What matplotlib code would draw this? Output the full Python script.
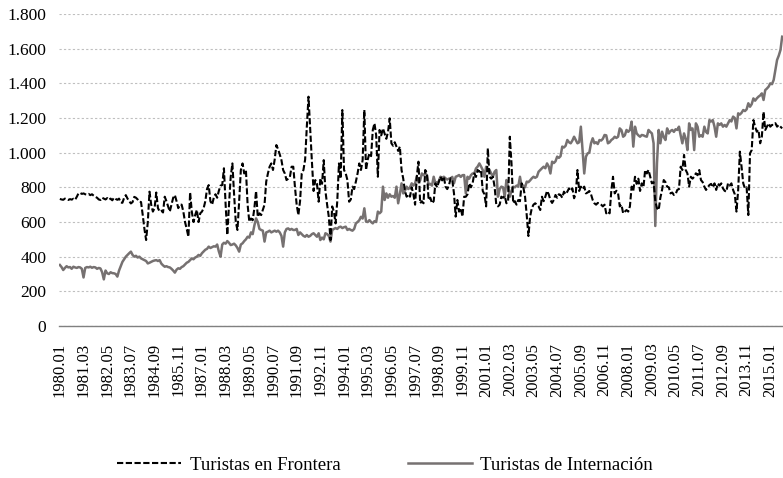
import numpy as np
import matplotlib
matplotlib.use("Agg")
import matplotlib.pyplot as plt
from matplotlib.ticker import FuncFormatter

plt.rcParams['font.family'] = ['Liberation Serif', 'DejaVu Serif']

# Monthly series, 1980.01 - 2015.08 (thousands)
frontera = [
    733, 730, 728, 735, 730, 727, 732, 729, 734, 728, 745, 765,   # 1980
    768, 762, 765, 760, 758, 762, 755, 760, 752, 745, 740, 730,   # 1981
    727, 740, 735, 730, 738, 728, 735, 725, 740, 733, 728, 735,   # 1982
    712, 711, 740, 755, 735, 720, 707, 715, 745, 740, 730, 717,   # 1983
    715, 640, 560, 496, 600, 775, 700, 660, 680, 770, 680, 660,   # 1984
    665, 655, 746, 720, 690, 660, 700, 740, 755, 720, 680, 700,   # 1985
    700, 660, 600, 560, 515, 771, 660, 600, 640, 670, 600, 650,   # 1986
    660, 680, 720, 790, 813, 720, 700, 740, 760, 740, 780, 810,   # 1987
    813, 910, 700, 525, 700, 860, 938, 760, 600, 554, 720, 900,   # 1988
    938, 880, 900, 700, 602, 620, 610, 680, 779, 630, 650, 640,   # 1989
    670, 700, 833, 880, 919, 938, 900, 960, 1044, 1020, 990, 957,  # 1990
    900, 880, 842, 850, 860, 919, 919, 800, 700, 640, 720, 880,   # 1991
    900, 960, 1150, 1323, 1131, 950, 779, 842, 820, 717, 852, 820,  # 1992
    957, 779, 700, 630, 496, 690, 660, 592, 720, 938, 850, 1246,  # 1993
    900, 880, 842, 717, 730, 804, 790, 833, 880, 938, 900, 957,   # 1994
    1246, 900, 960, 996, 980, 1131, 1169, 1100, 861, 1131, 1100, 1140,  # 1995
    1111, 1080, 1120, 1198, 1054, 1040, 1060, 1035, 1010, 1035, 900, 850,  # 1996
    779, 746, 760, 746, 800, 760, 700, 861, 948, 708, 720, 708,   # 1997
    900, 880, 727, 740, 708, 720, 823, 800, 830, 861, 840, 861,   # 1998
    804, 790, 810, 852, 840, 765, 631, 727, 660, 680, 631, 746,   # 1999
    746, 760, 823, 800, 823, 880, 860, 900, 890, 900, 779, 760,   # 2000
    690, 1025, 861, 850, 861, 804, 700, 690, 700, 746, 740, 750,  # 2001
    708, 720, 1092, 938, 708, 720, 700, 727, 720, 823, 800, 746,  # 2002
    640, 519, 631, 680, 700, 708, 700, 690, 669, 746, 720, 746,   # 2003
    779, 760, 727, 710, 727, 756, 740, 760, 756, 740, 775, 760,   # 2004
    775, 794, 780, 794, 737, 765, 900, 779, 804, 790, 804, 765,   # 2005
    770, 779, 760, 727, 708, 700, 710, 708, 700, 690, 700, 650,   # 2006
    660, 650, 779, 861, 765, 780, 765, 690, 700, 650, 660, 669,   # 2007
    660, 690, 804, 780, 861, 820, 850, 779, 823, 800, 900, 880,   # 2008
    900, 861, 823, 830, 720, 680, 669, 740, 785, 842, 830, 804,   # 2009
    800, 765, 770, 756, 760, 785, 790, 919, 900, 987, 900, 880,   # 2010
    804, 861, 850, 861, 881, 870, 900, 842, 830, 804, 785, 800,   # 2011
    813, 820, 800, 823, 785, 823, 810, 823, 794, 780, 775, 823,   # 2012
    810, 823, 785, 760, 660, 785, 1006, 919, 823, 794, 800, 640,  # 2013
    996, 1015, 1188, 1150, 1121, 1131, 1054, 1092, 1236, 1131, 1150, 1169,  # 2014
    1150, 1160, 1160, 1170, 1150, 1160, 1150, 1140,               # 2015
]

internacion = [
    352, 340, 323, 335, 345, 338, 340, 330, 342, 338, 335, 340,   # 1980
    338, 330, 280, 335, 340, 338, 342, 336, 340, 338, 330, 335,   # 1981
    332, 310, 269, 320, 304, 300, 310, 305, 304, 300, 285, 320,   # 1982
    345, 370, 385, 400, 410, 420, 429, 410, 400, 405, 395, 400,   # 1983
    390, 385, 380, 375, 361, 365, 370, 375, 378, 380, 375, 380,   # 1984
    360, 350, 342, 345, 340, 338, 330, 320, 308, 325, 333, 330,   # 1985
    340, 345, 355, 365, 370, 380, 390, 385, 395, 400, 410, 405,   # 1986
    420, 430, 440, 445, 458, 450, 455, 460, 458, 470, 430, 400,   # 1987
    470, 480, 475, 490, 480, 467, 470, 475, 465, 450, 429, 470,   # 1988
    477, 490, 500, 515, 510, 540, 530, 580, 621, 600, 560, 554,   # 1989
    550, 487, 540, 544, 550, 540, 545, 550, 544, 550, 540, 520,   # 1990
    458, 540, 560, 563, 555, 560, 554, 554, 560, 525, 540, 530,   # 1991
    520, 515, 525, 515, 520, 530, 535, 525, 515, 535, 496, 510,   # 1992
    500, 535, 530, 520, 487, 554, 560, 565, 560, 570, 573, 565,   # 1993
    570, 573, 554, 560, 554, 550, 560, 592, 600, 610, 630, 620,   # 1994
    679, 602, 600, 611, 600, 592, 605, 600, 660, 650, 660, 804,   # 1995
    727, 765, 740, 760, 746, 750, 740, 804, 708, 760, 823, 765,   # 1996
    780, 804, 790, 800, 823, 810, 823, 861, 830, 840, 880, 870,   # 1997
    880, 870, 815, 820, 810, 861, 823, 830, 833, 861, 855, 861,   # 1998
    852, 845, 850, 852, 860, 823, 861, 865, 871, 860, 870, 871,   # 1999
    765, 861, 850, 870, 880, 880, 909, 920, 938, 920, 900, 861,   # 2000
    919, 900, 900, 880, 861, 890, 900, 746, 790, 804, 800, 746,   # 2001
    842, 800, 746, 780, 804, 800, 810, 804, 861, 804, 810, 800,   # 2002
    833, 830, 840, 852, 861, 855, 861, 890, 900, 910, 919, 910,   # 2003
    938, 920, 880, 948, 940, 950, 977, 970, 980, 1035, 1030, 1040,  # 2004
    1073, 1060, 1054, 1070, 1092, 1073, 1054, 1060, 1150, 1015, 880, 977,  # 2005
    996, 1000, 1054, 1083, 1054, 1060, 1050, 1073, 1070, 1080, 1102, 1100,  # 2006
    1054, 1060, 1073, 1080, 1092, 1085, 1092, 1140, 1130, 1092, 1100, 1131,  # 2007
    1120, 1131, 1179, 1035, 1150, 1111, 1100, 1092, 1102, 1100, 1095, 1092,  # 2008
    1131, 1120, 1111, 1054, 577, 938, 1131, 1054, 1121, 1090, 1073, 1140,  # 2009
    1111, 1125, 1131, 1120, 1135, 1131, 1150, 1100, 1054, 1111, 1080, 1015,  # 2010
    1169, 1131, 1140, 1015, 1169, 1150, 1092, 1100, 1092, 1150, 1120, 1111,  # 2011
    1188, 1180, 1188, 1150, 1092, 1169, 1160, 1169, 1150, 1160, 1150, 1169,  # 2012
    1188, 1180, 1208, 1200, 1140, 1227, 1220, 1230, 1246, 1240, 1250, 1285,  # 2013
    1265, 1280, 1313, 1300, 1313, 1323, 1330, 1342, 1304, 1361, 1370, 1381,  # 2014
    1400, 1395, 1420, 1477, 1535, 1560, 1592, 1669,               # 2015
]

start_year, start_month = 1980, 1
n = len(frontera)
labels_all = []
for i in range(n):
    y = start_year + (start_month - 1 + i) // 12
    m = (start_month - 1 + i) % 12 + 1
    labels_all.append(f"{y}.{m:02d}")
tick_step = 14
tick_idx = list(range(0, n, tick_step))
tick_labels = [labels_all[i] for i in tick_idx]

fig = plt.figure(figsize=(7.83, 4.78), dpi=100)
ax = fig.add_axes([59/783, 1 - 326/478, 1 - 59/783, (326 - 14)/478])

x = np.arange(n)
ax.plot(x, frontera, color='black', lw=1.5, linestyle=(0, (3, 1.2)),
        label='Turistas en Frontera', zorder=3)
ax.plot(x, internacion, color='#767171', lw=1.8, linestyle='-',
        label='Turistas de Internación', zorder=2)

ax.set_xlim(-0.5, n - 0.5)
ax.set_ylim(0, 1800)
ax.set_yticks(np.arange(0, 1801, 200))
ax.yaxis.set_major_formatter(FuncFormatter(lambda v, p: f"{int(v):,}".replace(",", ".")))
ax.grid(axis='y', color='#bfbfbf', linestyle=(0, (2, 2)), lw=0.8)
ax.set_axisbelow(True)

for s in ['top', 'right', 'left']:
    ax.spines[s].set_visible(False)
ax.spines['bottom'].set_color('#808080')
ax.spines['bottom'].set_linewidth(1.0)

ax.set_xticks(tick_idx)
ax.set_xticklabels(tick_labels, rotation=90, ha='center', va='top', fontsize=12)
ax.tick_params(axis='x', length=0, pad=12)
ax.tick_params(axis='y', length=0, pad=9, labelsize=12.5)

fig.legend(loc='center', bbox_to_anchor=(385/783, 1 - 465/478), ncol=2,
           frameon=False, fontsize=13.5, handlelength=3.4, columnspacing=3.6,
           handletextpad=0.45)

fig.savefig('out.png', dpi=100)
